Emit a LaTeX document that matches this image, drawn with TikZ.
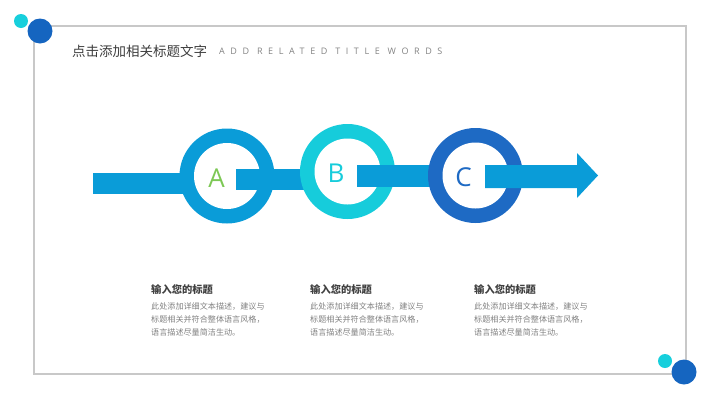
\documentclass[tikz,border=0pt]{standalone}
\usepackage{fontspec}
\newfontfamily\cjk{Noto Sans CJK SC}
\newfontfamily\latinsf{Open Sans}
\definecolor{barblue}{RGB}{10,156,216}
\definecolor{ringcyan}{RGB}{22,204,219}
\definecolor{ringdark}{RGB}{30,106,196}
\definecolor{dotblue}{RGB}{21,101,192}
\definecolor{dotcyan}{RGB}{23,207,220}
\definecolor{framegray}{RGB}{200,200,200}
\definecolor{lettergreen}{RGB}{125,200,85}
\definecolor{titlegray}{RGB}{60,60,60}
\definecolor{subgray}{RGB}{130,130,130}
\definecolor{headgray}{RGB}{64,64,64}
\definecolor{bodygray}{RGB}{128,128,128}
\tikzset{
  ringout/.style={circle, minimum size=95pt, inner sep=0pt, fill=#1},
  ringin/.style={circle, minimum size=66pt, inner sep=0pt, fill=white},
  letter/.style={font=\latinsf\fontsize{26}{26}\selectfont, text=#1, inner sep=0pt},
  head/.style={font=\cjk\bfseries\fontsize{10.3}{11}\selectfont, text=headgray, anchor=west, inner sep=0pt},
  body/.style={font=\cjk\fontsize{8.1}{13}\selectfont, text=bodygray, anchor=north west, align=left, inner sep=0pt},
}
\begin{document}
\begin{tikzpicture}[x=1pt,y=-1pt]
\useasboundingbox (0,0) rectangle (720,405);
% frame
\draw[framegray, line width=1.3pt] (34,26) rectangle (686,374);
% corner dots
\fill[dotcyan] (21,21) circle[radius=7pt];
\fill[dotblue] (40,31) circle[radius=12.5pt];
\fill[dotcyan] (665,361) circle[radius=7pt];
\fill[dotblue] (684,372) circle[radius=12.5pt];
% title
\node[anchor=west, inner sep=0pt, font=\cjk\fontsize{13.5}{14}\selectfont, text=titlegray] (title) at (72,51) {点击添加相关标题文字};
\node[anchor=west, inner sep=0pt, font=\latinsf\fontsize{9}{9}\selectfont\addfontfeature{LetterSpace=62}, text=subgray] (sub) at (219,51) {ADD RELATED TITLE WORDS};
% bar 1
\fill[barblue] (93,173) rectangle (200,194);
% ring A
\node[ringout=barblue] (ringA) at (227,176) {};
\node[ringin] (innerA) at (ringA) {};
% bar 2
\fill[barblue] (236,169) rectangle (320,190);
% ring B
\node[ringout=ringcyan] (ringB) at (347.5,171.5) {};
\node[ringin] (innerB) at (ringB) {};
% bar 3
\fill[barblue] (357,165) rectangle (445,187);
% ring C
\node[ringout=ringdark] (ringC) at (475.5,175.5) {};
\node[ringin] (innerC) at (ringC) {};
% arrow
\fill[barblue] (485,165) -- (577,165) -- (577,153) -- (598,175.5) -- (577,198) -- (577,188) -- (485,188) -- cycle;
% letters
\node[letter=lettergreen] (la) at (216.5,178.5) {A};
\node[letter=ringcyan] (lb) at (336,173.5) {B};
\node[letter=ringdark] (lc) at (463.5,177) {C};
% text blocks
\node[head] (h1) at (151,289.5) {输入您的标题};
\node[body] (b1) at (151,302.5) {此处添加详细文本描述，建议与\\标题相关并符合整体语言风格，\\语言描述尽量简洁生动。};
\node[head] (h2) at (310,289.5) {输入您的标题};
\node[body] (b2) at (310,302.5) {此处添加详细文本描述，建议与\\标题相关并符合整体语言风格，\\语言描述尽量简洁生动。};
\node[head] (h3) at (474,289.5) {输入您的标题};
\node[body] (b3) at (474,302.5) {此处添加详细文本描述，建议与\\标题相关并符合整体语言风格，\\语言描述尽量简洁生动。};
\end{tikzpicture}
\end{document}
